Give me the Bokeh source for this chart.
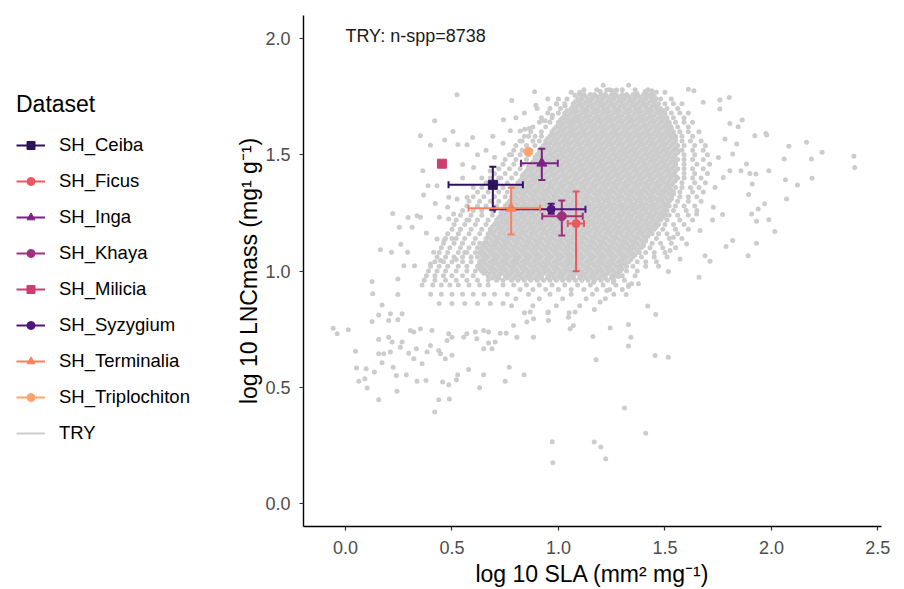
import math
from bokeh.plotting import figure
from bokeh.layouts import row
from bokeh.models import (Range1d, FixedTicker, NumeralTickFormatter, Legend,
                          LegendItem, Label)
from bokeh.embed import file_html
from bokeh.resources import INLINE

FONT = "Liberation Sans"
NAN = float("nan")

# ---------------- species summary data ----------------
SPECIES = ["SH_Ceiba", "SH_Ficus", "SH_Inga", "SH_Khaya", "SH_Milicia",
           "SH_Syzygium", "SH_Terminalia", "SH_Triplochiton"]
SLA_MEAN = [0.692, 1.083, 0.922, 1.016, 0.453, 0.966, 0.778, 0.859]
SLA_LO = [0.484, 1.044, 0.824, 0.924, NAN, 0.700, 0.578, NAN]
SLA_HI = [0.833, 1.120, 0.997, 1.114, NAN, 1.127, 0.914, NAN]
LNC_MEAN = [1.371, 1.204, 1.464, 1.236, 1.462, 1.266, 1.270, 1.513]
LNC_LO = [1.264, 0.999, 1.392, 1.153, NAN, 1.246, 1.157, NAN]
LNC_HI = [1.449, 1.342, 1.526, 1.303, NAN, 1.289, 1.358, NAN]
COLORS = ["#2C115F", "#EC5860", "#7B2382", "#A0307F", "#CA3E72",
          "#52137C", "#FB8060", "#FEA470"]
MARKERS = ["square", "circle", "triangle", "circle", "square",
           "circle", "triangle", "circle"]
MSIZE = [9, 8, 10, 9, 9, 8, 10, 9]
TRY_COLOR = "#CCCCCC"

X_TICKS = [0.0, 0.5, 1.0, 1.5, 2.0, 2.5]
Y_TICKS = [0.0, 0.5, 1.0, 1.5, 2.0]
ANNOT_TEXT = "TRY: n-spp=8738"
ANNOT_X, ANNOT_Y = 0.0, 2.01

# ---------------- TRY cloud ----------------
# dense core: LNC (hundredths) -> SLA values (hundredths)
TRY_CORE_ROWS = {
    176: "110 112 115 117 120 122 125 127 130 132 135 137 140 142 144",
    175: "111 113 116 118 121 123 126 128 131 133 136 138 141 143 145",
    174: "109 111 114 116 119 121 124 126 129 131 134 136 139 141 144 146",
    173: "108 110 113 115 118 120 123 125 128 130 133 135 138 140 143 145",
    172: "107 110 112 115 117 120 122 125 127 130 132 135 137 140 142 145 147",
    171: "107 109 111 114 116 119 121 124 126 129 131 134 136 139 141 144 146",
    170: "106 108 111 113 116 118 121 123 126 128 131 133 136 138 141 143 146 148",
    169: "104 107 109 112 114 117 119 122 124 127 129 132 134 137 139 142 144 147 149",
    168: "103 106 108 111 113 116 118 121 123 126 128 131 133 136 138 141 143 146 148 150",
    167: "103 105 108 110 113 115 118 120 123 125 128 130 133 135 138 140 143 145 148 150",
    166: "102 104 107 109 112 114 117 119 122 124 127 129 132 134 137 139 142 144 147 149 151",
    165: "101 104 106 109 111 114 116 119 121 124 126 129 131 134 136 139 141 144 146 149 151",
    164: "100 103 105 108 110 113 115 118 120 123 125 128 130 133 135 138 140 143 145 148 150 152",
    163: "100 102 105 107 110 112 115 117 120 122 125 127 130 132 135 137 140 142 145 147 150 152",
    162: "99 101 104 106 109 111 114 116 119 121 124 126 129 131 134 136 139 141 144 146 149 151 153",
    161: "98 101 103 106 108 111 113 116 118 121 123 126 128 131 133 136 138 141 143 146 148 151 153",
    160: "97 100 102 105 107 110 112 115 117 120 122 125 127 130 132 135 137 140 142 145 147 150 152 154",
    159: "97 99 102 104 107 109 112 114 117 119 122 124 127 129 132 134 137 139 142 144 147 149 152 154",
    158: "96 98 101 103 106 108 111 113 116 118 121 123 126 128 131 133 136 138 141 143 146 148 151 153 155",
    157: "95 98 100 103 105 108 110 113 115 118 120 123 125 128 130 133 135 138 140 143 145 148 150 153 155",
    156: "94 97 99 102 104 107 109 112 114 117 119 122 124 127 129 132 134 137 139 142 144 147 149 152 155",
    155: "94 96 99 101 104 106 109 111 114 116 119 121 124 126 129 131 134 136 139 141 144 146 149 151 154",
    154: "93 95 98 100 103 105 108 110 113 115 118 120 123 125 128 130 133 135 138 140 143 145 148 150 153 156",
    153: "92 95 97 100 102 105 107 110 112 115 117 120 122 125 127 130 132 135 137 140 142 145 147 150 152 155",
    152: "91 94 96 99 101 104 106 109 111 114 116 119 121 124 126 129 131 134 136 139 141 144 146 149 151 154 156",
    151: "91 93 96 98 101 103 106 108 111 113 116 118 121 123 126 128 131 133 136 138 141 143 146 148 151 153 156",
    150: "90 92 95 97 100 102 105 107 110 112 115 117 120 122 125 127 130 132 135 137 140 142 145 147 150 152 155",
    149: "89 92 94 97 99 102 104 107 109 112 114 117 119 122 124 127 129 132 134 137 139 142 144 147 149 152 154",
    148: "89 91 94 96 99 101 104 106 109 111 114 116 119 121 124 126 129 131 134 136 139 141 144 146 149 151 154 156",
    147: "88 90 93 95 98 100 103 105 108 110 113 115 118 120 123 125 128 130 133 135 138 140 143 145 148 150 153 155",
    146: "87 90 92 95 97 100 102 105 107 110 112 115 117 120 122 125 127 130 132 135 137 140 142 145 147 150 152 155",
    145: "86 89 91 94 96 99 101 104 106 109 111 114 116 119 121 124 126 129 131 134 136 139 141 144 146 149 151 154",
    144: "86 88 91 93 96 98 101 103 106 108 111 113 116 118 121 123 126 128 131 133 136 138 141 143 146 148 151 153 156",
    143: "85 87 90 92 95 97 100 102 105 107 110 112 115 117 120 122 125 127 130 132 135 137 140 142 145 147 150 152 155",
    142: "84 87 89 92 94 97 99 102 104 107 109 112 114 117 119 122 124 127 129 132 134 137 139 142 144 147 149 152 154",
    141: "83 86 88 91 93 96 98 101 103 106 108 111 113 116 118 121 123 126 128 131 133 136 138 141 143 146 148 151 153 155",
    140: "83 85 88 90 93 95 98 100 103 105 108 110 113 115 118 120 123 125 128 130 133 135 138 140 143 145 148 150 153 156",
    139: "82 84 87 89 92 94 97 99 102 104 107 109 112 114 117 119 122 124 127 129 132 134 137 139 142 144 147 149 152 155",
    138: "81 84 86 89 91 94 96 99 101 104 106 109 111 114 116 119 121 124 126 129 131 134 136 139 141 144 146 149 151 154",
    137: "81 83 86 88 91 93 96 98 101 103 106 108 111 113 116 118 121 123 126 128 131 133 136 138 141 143 146 148 151 153",
    136: "80 82 85 87 90 92 95 97 100 102 105 107 110 112 115 117 120 122 125 127 130 132 135 137 140 142 145 147 150 152 155",
    135: "80 83 85 88 90 93 95 98 100 103 105 108 110 113 115 118 120 123 125 128 130 133 135 138 140 143 145 148 150 153",
    134: "79 81 84 86 89 91 94 96 99 101 104 106 109 111 114 116 119 121 124 126 129 131 134 136 139 141 144 146 149 151 154",
    133: "79 82 84 87 89 92 94 97 99 102 104 107 109 112 114 117 119 122 124 127 129 132 134 137 139 142 144 147 149 152 154",
    132: "78 80 83 85 88 90 93 95 98 100 103 105 108 110 113 115 118 120 123 125 128 130 133 135 138 140 143 145 148 150 153",
    131: "78 81 83 86 88 91 93 96 98 101 103 106 108 111 113 116 118 121 123 126 128 131 133 136 138 141 143 146 148 151 153",
    130: "77 79 82 84 87 89 92 94 97 99 102 104 107 109 112 114 117 119 122 124 127 129 132 134 137 139 142 144 147 149 152",
    129: "76 79 81 84 86 89 91 94 96 99 101 104 106 109 111 114 116 119 121 124 126 129 131 134 136 139 141 144 146 149 151",
    128: "75 78 80 83 85 88 90 93 95 98 100 103 105 108 110 113 115 118 120 123 125 128 130 133 135 138 140 143 145 148 150 152",
    127: "75 77 80 82 85 87 90 92 95 97 100 102 105 107 110 112 115 117 120 122 125 127 130 132 135 137 140 142 145 147 150",
    126: "74 76 79 81 84 86 89 91 94 96 99 101 104 106 109 111 114 116 119 121 124 126 129 131 134 136 139 141 144 146 149 151",
    125: "73 76 78 81 83 86 88 91 93 96 98 101 103 106 108 111 113 116 118 121 123 126 128 131 133 136 138 141 143 146 148 150",
    124: "73 75 78 80 83 85 88 90 93 95 98 100 103 105 108 110 113 115 118 120 123 125 128 130 133 135 138 140 143 145 148 150",
    123: "72 74 77 79 82 84 87 89 92 94 97 99 102 104 107 109 112 114 117 119 122 124 127 129 132 134 137 139 142 144 147 149",
    122: "71 74 76 79 81 84 86 89 91 94 96 99 101 104 106 109 111 114 116 119 121 124 126 129 131 134 136 139 141 144 146 148",
    121: "71 73 76 78 81 83 86 88 91 93 96 98 101 103 106 108 111 113 116 118 121 123 126 128 131 133 136 138 141 143 146",
    120: "70 72 75 77 80 82 85 87 90 92 95 97 100 102 105 107 110 112 115 117 120 122 125 127 130 132 135 137 140 142 145 147",
    119: "69 72 74 77 79 82 84 87 89 92 94 97 99 102 104 107 109 112 114 117 119 122 124 127 129 132 134 137 139 142 144 146",
    118: "68 71 73 76 78 81 83 86 88 91 93 96 98 101 103 106 108 111 113 116 118 121 123 126 128 131 133 136 138 141 143 145",
    117: "68 70 73 75 78 80 83 85 88 90 93 95 98 100 103 105 108 110 113 115 118 120 123 125 128 130 133 135 138 140 143",
    116: "67 69 72 74 77 79 82 84 87 89 92 94 97 99 102 104 107 109 112 114 117 119 122 124 127 129 132 134 137 139 142 144",
    115: "67 70 72 75 77 80 82 85 87 90 92 95 97 100 102 105 107 110 112 115 117 120 122 125 127 130 132 135 137 140 142",
    114: "66 68 71 73 76 78 81 83 86 88 91 93 96 98 101 103 106 108 111 113 116 118 121 123 126 128 131 133 136 138 141",
    113: "66 69 71 74 76 79 81 84 86 89 91 94 96 99 101 104 106 109 111 114 116 119 121 124 126 129 131 134 136 139 141",
    112: "65 67 70 72 75 77 80 82 85 87 90 92 95 97 100 102 105 107 110 112 115 117 120 122 125 127 130 132 135 137 140",
    111: "65 68 70 73 75 78 80 83 85 88 90 93 95 98 100 103 105 108 110 113 115 118 120 123 125 128 130 133 135 138 140",
    110: "64 66 69 71 74 76 79 81 84 86 89 91 94 96 99 101 104 106 109 111 114 116 119 121 124 126 129 131 134 136 139",
    109: "64 67 69 72 74 77 79 82 84 87 89 92 94 97 99 102 104 107 109 112 114 117 119 122 124 127 129 132 134 137",
    108: "63 65 68 70 73 75 78 80 83 85 88 90 93 95 98 100 103 105 108 110 113 115 118 120 123 125 128 130 133 135 138",
    107: "64 66 69 71 74 76 79 81 84 86 89 91 94 96 99 101 104 106 109 111 114 116 119 121 124 126 129 131 134 136",
    106: "62 65 67 70 72 75 77 80 82 85 87 90 92 95 97 100 102 105 107 110 112 115 117 120 122 125 127 130 132 135",
    105: "64 66 69 71 74 76 79 81 84 86 89 91 94 96 99 101 104 106 109 111 114 116 119 121 124 126 129 131 134",
    104: "63 65 68 70 73 75 78 80 83 85 88 90 93 95 98 100 103 105 108 110 113 115 118 120 123 125 128 130 133",
    103: "63 66 69 71 74 76 79 81 84 86 89 91 94 96 99 101 104 106 109 111 114 116 119 121 124 126 129 131",
    102: "62 64 67 69 72 74 77 79 82 84 87 89 92 94 97 99 102 104 107 109 112 114 117 119 122 124 127 129 132",
    101: "63 65 68 70 73 75 78 80 83 85 88 90 93 95 98 100 103 105 108 110 113 115 118 120 123 125 128 130",
    100: "64 66 69 71 74 76 79 81 84 86 89 91 94 96 99 101 104 106 109 111 114 116 119 121 124 126 129",
    99: "65 68 70 73 76 78 81 83 86 88 91 93 96 98 101 103 106 108 111 113 116 118 121 123 126 128",
    98: "67 70 72 75 77 80 82 85 87 90 92 95 97 100 102 105 107 110 112 115 117 120 122 125 127",
    97: "69 72 76 79 83 86 89 92 95 98 101 104 107 110 113 116 119 122 125",
    96: "71 74 78 81 84 87 90 93 96 99 102 105 108 111 114 117 120 123",
}
# medium-density halo round the core
TRY_HALO_ROWS = {
    180: "121 133",
    178: "112 118 124 130 136 142",
    174: "100 104 148 153",
    170: "96 101 151 156",
    166: "92 97 154 159",
    162: "88 94 156 161",
    158: "84 89 92 158 163",
    154: "80 85 89 159 164 169",
    150: "77 82 86 159 164 170",
    146: "74 79 83 159 165 171",
    142: "70 75 80 159 164 170",
    138: "66 71 76 158 164 169",
    134: "62 67 72 76 157 163 168",
    130: "58 63 68 72 156 161 167",
    126: "55 60 64 69 154 160 165",
    122: "52 57 62 67 151 157 163",
    118: "50 54 59 64 149 155 161",
    114: "47 52 56 61 146 152 158",
    110: "45 49 54 58 62 143 149 155",
    106: "43 47 51 55 59 139 145 151",
    102: "40 44 48 53 57 135 141 147",
    98: "38 42 46 50 55 60 130 136",
    94: "36 41 45 49 53 58 63 67 74 79 85 91 97 103 109 115 121 127 133",
    92: "82 88 94 100 106 112 118 124 130",
    90: "40 45 50 55 60 65 70 76 86 96 106 116 126",
    88: "80 91 102 113 122",
    86: "44 50 56 62 68 74",
    85: "78 88 99 110",
    82: "84 95 105",
}
TRY_HALO2_ROWS = {
    177: "106 110 146 150",
    172: "99 103 150 154 158",
    168: "95 100 153 157 161",
    164: "91 96 155 159 163",
    160: "87 92 157 161 166",
    156: "83 88 91 158 162 167",
    152: "79 83 87 158 163 168",
    148: "75 80 85 159 163 168",
    144: "72 77 82 159 163 168",
    140: "68 73 78 159 163 167",
    136: "64 69 74 78 158 162 166",
    132: "60 65 70 75 157 161 165",
    128: "57 62 66 71 155 159 164",
    124: "54 59 64 69 152 156 161",
    120: "51 56 61 66 150 154 159",
    116: "48 53 58 63 147 151 156",
    112: "46 51 55 60 63 144 148 153",
    108: "44 48 53 57 61 141 145 150",
    104: "42 46 50 55 59 137 141 146",
    100: "39 43 47 52 57 61 132 137",
    96: "37 42 47 52 57 62 67 126 131",
}
# scattered individual points (SLA, LNC)
TRY_SPARSE = [
    (0.524, 1.759), (0.888, 1.772), (0.781, 1.734), (0.894, 1.714), (0.992, 1.719),
    (1.031, 1.711), (1.078, 1.757), (0.742, 1.651), (0.419, 1.647), (0.505, 1.601),
    (0.352, 1.582), (0.466, 1.564), (0.399, 1.541), (0.528, 1.545), (0.571, 1.544),
    (0.597, 1.575), (0.692, 1.580), (0.774, 1.604), (0.821, 1.603), (0.842, 1.610),
    (0.863, 1.614), (0.922, 1.647), (0.972, 1.671), (0.938, 1.647), (1.008, 1.640),
    (1.063, 1.644), (1.102, 1.647), (0.363, 1.432), (0.550, 1.458), (0.602, 1.446),
    (0.430, 1.367), (0.388, 1.367), (0.367, 1.327), (0.222, 1.248), (0.294, 1.230),
    (0.253, 1.188), (0.164, 1.092), (0.216, 1.081), (0.260, 1.115), (0.292, 1.081),
    (0.324, 1.023), (0.274, 1.023), (0.313, 1.188), (0.336, 1.238), (0.352, 1.231),
    (0.380, 1.164), (0.422, 1.291), (0.480, 1.274), (0.485, 1.317), (0.524, 1.310),
    (0.571, 1.317), (0.441, 1.231), (0.485, 1.224), (0.508, 1.245), (0.430, 1.138),
    (0.464, 1.131), (0.414, 1.081), (0.399, 1.030), (0.446, 1.045),
    (0.62, 1.50), (0.66, 1.52), (0.70, 1.49), (0.74, 1.55), (0.78, 1.50), (0.82, 1.56),
    (0.64, 1.40), (0.68, 1.43), (0.72, 1.40), (0.60, 1.36), (0.55, 1.40), (0.84, 1.68),
    (0.80, 1.66), (0.90, 1.70), (0.95, 1.74), (0.86, 1.58), (0.58, 1.22), (0.54, 1.18),
    (0.50, 1.14), (0.56, 1.08), (0.52, 1.05),
    (1.196, 1.773), (1.227, 1.779), (1.255, 1.776), (1.274, 1.779), (1.305, 1.754),
    (1.368, 1.765), (1.407, 1.773), (1.438, 1.776), (1.610, 1.783), (1.636, 1.776),
    (1.680, 1.726), (1.758, 1.736), (1.802, 1.747), (1.758, 1.697), (1.863, 1.650),
    (1.805, 1.635), (1.844, 1.621), (1.922, 1.582), (1.974, 1.592), (1.978, 1.586),
    (2.082, 1.537), (2.165, 1.554), (2.238, 1.511), (2.060, 1.482), (2.188, 1.482),
    (2.387, 1.494), (2.391, 1.446), (1.988, 1.432), (2.066, 1.393), (2.122, 1.370),
    (2.191, 1.399), (1.883, 1.461), (1.857, 1.432), (1.899, 1.420), (1.927, 1.418),
    (1.910, 1.375), (1.893, 1.329), (1.968, 1.289), (2.071, 1.310), (1.938, 1.267),
    (1.907, 1.245), (1.930, 1.214), (1.988, 1.221), (2.016, 1.170), (1.818, 1.131),
    (1.787, 1.106), (1.930, 1.119), (1.891, 1.066), (1.688, 1.066), (1.712, 1.042),
    (1.771, 1.243), (1.724, 1.220), (1.805, 1.432), (1.818, 1.504), (1.837, 1.547),
    (1.782, 1.568), (1.751, 1.489), (1.774, 1.403), (1.735, 1.360), (1.727, 1.274),
    (1.665, 1.174), (1.649, 1.245), (1.602, 1.116), (1.571, 1.052), (1.524, 1.088),
    (1.540, 1.145),
    (0.125, 0.955), (0.128, 0.902), (0.246, 0.966), (0.246, 0.899), (0.172, 0.854),
    (0.156, 0.811), (0.125, 0.783), (0.211, 0.816), (0.203, 0.787), (0.266, 0.816),
    (0.246, 0.790), (-0.058, 0.754), (-0.039, 0.730), (0.013, 0.747), (0.156, 0.705),
    (0.047, 0.655), (0.156, 0.644), (0.180, 0.644), (0.211, 0.651), (0.172, 0.605),
    (0.203, 0.715), (0.219, 0.694), (0.266, 0.694), (0.258, 0.672), (0.297, 0.646),
    (0.333, 0.665), (0.321, 0.622), (0.360, 0.601), (0.052, 0.582), (0.097, 0.579),
    (0.136, 0.565), (0.091, 0.536), (0.063, 0.525), (0.102, 0.496), (0.224, 0.586),
    (0.239, 0.550), (0.286, 0.553), (0.242, 0.482), (0.156, 0.446), (0.336, 0.525),
    (0.378, 0.529), (0.456, 0.522), (0.485, 0.510), (0.521, 0.532), (0.527, 0.553),
    (0.578, 0.576), (0.438, 0.446), (0.488, 0.449), (0.419, 0.393), (0.649, 0.553),
    (0.630, 0.497), (0.769, 0.586), (0.750, 0.525), (0.839, 0.553), (0.883, 0.715),
    (0.971, 0.265), (0.974, 0.175), (0.383, 0.651), (0.399, 0.679), (0.446, 0.644),
    (0.469, 0.622), (0.500, 0.637), (0.438, 0.658), (0.305, 0.744), (0.321, 0.737),
    (0.352, 0.751), (0.406, 0.744), (0.485, 0.730), (0.477, 0.701), (0.500, 0.715),
    (0.555, 0.715), (0.617, 0.708), (0.649, 0.665), (0.688, 0.665), (0.672, 0.690),
    (0.703, 0.694), (0.727, 0.732), (0.755, 0.732), (0.805, 0.715), (0.789, 0.765),
    (0.852, 0.780), (0.883, 0.794), (0.953, 0.787), (1.055, 0.751), (1.070, 0.765),
    (1.047, 0.801), (1.078, 0.823), (0.953, 0.823), (0.867, 0.823), (0.570, 0.730),
    (0.610, 0.737), (0.649, 0.744), (0.672, 0.737),
    (1.660, 0.973), (1.516, 0.998), (1.376, 0.945), (1.344, 0.945), (1.318, 0.899),
    (1.329, 0.933), (1.227, 0.916), (1.419, 0.849), (1.457, 0.813), (1.169, 0.834),
    (1.196, 0.866), (1.329, 0.770), (1.243, 0.755), (1.340, 0.715), (1.162, 0.718),
    (1.329, 0.677), (1.454, 0.636), (1.516, 0.629), (1.177, 0.618), (1.310, 0.410),
    (1.410, 0.302), (1.168, 0.264), (1.199, 0.242), (1.222, 0.192), (1.258, 0.952),
    (1.282, 0.976), (1.165, 0.952),
]

try_x, try_y = [], []
for rows in (TRY_CORE_ROWS, TRY_HALO_ROWS, TRY_HALO2_ROWS):
    for yk, r in rows.items():
        for xv in r.split():
            try_x.append(int(xv) / 100.0)
            try_y.append(yk / 100.0)
for xv, yv in TRY_SPARSE:
    try_x.append(xv)
    try_y.append(yv)

W, H = 904, 589
LEG_W = 225

# ---------------- main plot ----------------
p = figure(width=W - LEG_W, height=H,
           x_range=Range1d(-0.197, 2.517), y_range=Range1d(-0.1, 2.1),
           output_backend="svg", toolbar_location=None,
           min_border_left=78, min_border_right=23,
           min_border_top=15, min_border_bottom=63)
p.xgrid.visible = False
p.ygrid.visible = False
p.outline_line_color = None
p.background_fill_color = "white"
p.border_fill_color = "white"

for ax, ticks in ((p.xaxis[0], X_TICKS), (p.yaxis[0], Y_TICKS)):
    ax.ticker = FixedTicker(ticks=ticks)
    ax.formatter = NumeralTickFormatter(format="0.0")
    ax.axis_line_color = "black"
    ax.axis_line_width = 1.4
    ax.major_tick_line_color = "#333333"
    ax.major_tick_line_width = 1.2
    ax.major_tick_out = 4
    ax.major_tick_in = 0
    ax.minor_tick_out = 0
    ax.minor_tick_in = 0
    ax.major_label_text_font = FONT
    ax.major_label_text_font_size = "18px"
    ax.major_label_text_color = "#4D4D4D"
    ax.axis_label_text_font = FONT
    ax.axis_label_text_font_size = "23px"
    ax.axis_label_text_font_style = "normal"
    ax.axis_label_text_color = "black"

p.xaxis.axis_label = "log 10 SLA (mm\u00b2 mg\u207b\u00b9)"
p.yaxis.axis_label = "log 10 LNCmass (mg\u00b9 g\u207b\u00b9)"
p.xaxis.major_label_standoff = 10
p.xaxis.axis_label_standoff = 4
p.yaxis.major_label_standoff = 9
p.yaxis.axis_label_standoff = 0

p.scatter(try_x, try_y, size=5, fill_color=TRY_COLOR, line_color=None)

for i, name in enumerate(SPECIES):
    c = COLORS[i]
    p.segment([SLA_LO[i]], [LNC_MEAN[i]], [SLA_HI[i]], [LNC_MEAN[i]],
              line_color=c, line_width=2)
    p.segment([SLA_MEAN[i]], [LNC_LO[i]], [SLA_MEAN[i]], [LNC_HI[i]],
              line_color=c, line_width=2)
    p.scatter([SLA_LO[i], SLA_HI[i]], [LNC_MEAN[i], LNC_MEAN[i]], marker="dash",
              size=7, angle=math.pi / 2, line_color=c, line_width=2)
    p.scatter([SLA_MEAN[i], SLA_MEAN[i]], [LNC_LO[i], LNC_HI[i]], marker="dash",
              size=7, line_color=c, line_width=2)
    p.scatter([SLA_MEAN[i]], [LNC_MEAN[i]], marker=MARKERS[i], size=MSIZE[i],
              fill_color=c, line_color=c, line_width=1)

p.add_layout(Label(x=ANNOT_X, y=ANNOT_Y, text=ANNOT_TEXT, text_font=FONT,
                   text_font_size="18px", text_baseline="middle",
                   text_align="left", text_color="#1A1A1A"))

# ---------------- legend panel (separate figure) ----------------
lg = figure(width=LEG_W, height=H, x_range=Range1d(0, 1), y_range=Range1d(0, 1),
            output_backend="svg", toolbar_location=None,
            x_axis_location=None, y_axis_location=None, min_border=0)
lg.xgrid.visible = False
lg.ygrid.visible = False
lg.outline_line_color = None
lg.border_fill_color = "white"
lg.background_fill_color = "white"

items = []
for i, name in enumerate(SPECIES):
    c = COLORS[i]
    ln = lg.segment([NAN], [NAN], [NAN], [NAN], line_color=c, line_width=2)
    mk = lg.scatter([NAN], [NAN], marker=MARKERS[i], fill_color=c, line_color=c)
    items.append(LegendItem(label=name, renderers=[ln, mk]))
tl = lg.segment([NAN], [NAN], [NAN], [NAN], line_color=TRY_COLOR, line_width=2)
items.append(LegendItem(label="TRY", renderers=[tl]))

legend = Legend(items=items, title="Dataset", location=(16, 78),
                title_text_font=FONT, title_text_font_size="23px",
                title_text_font_style="normal", title_text_color="black",
                title_standoff=12,
                label_text_font=FONT, label_text_font_size="18.5px",
                label_text_color="black", label_standoff=14,
                glyph_width=29, glyph_height=20, label_height=30,
                spacing=6, padding=4, margin=0, border_line_color=None,
                background_fill_alpha=0)
lg.add_layout(legend)

layout = row(lg, p)
open("out.html", "w").write(file_html(layout, INLINE))
